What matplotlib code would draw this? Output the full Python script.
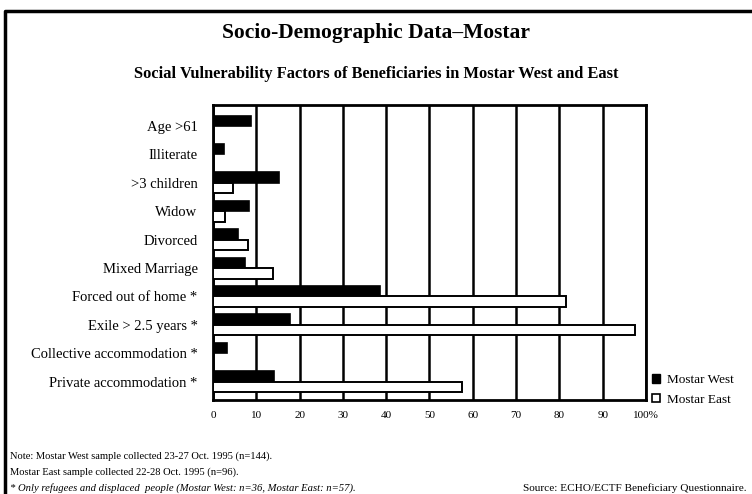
import numpy as np
import matplotlib
matplotlib.use("Agg")
import matplotlib.pyplot as plt
from matplotlib.patches import Patch
from matplotlib.lines import Line2D

plt.rcParams['font.family'] = 'Liberation Serif'

categories = ["Age >61", "Illiterate", ">3 children", "Widow", "Divorced",
              "Mixed Marriage", "Forced out of home *", "Exile > 2.5 years *",
              "Collective accommodation *", "Private accommodation *"]
west = [8.8, 2.6, 15.2, 8.4, 5.7, 7.3, 38.6, 17.9, 3.2, 14.0]
east = [0, 0, 4.7, 2.8, 8.2, 13.8, 81.5, 97.5, 0, 57.5]
xticks = [0, 10, 20, 30, 40, 50, 60, 70, 80, 90, 100]
xtick_labels = ["0", "10", "20", "30", "40", "50", "60", "70", "80", "90", "100%"]

fig = plt.figure(figsize=(7.52, 4.94), dpi=100)
ax = fig.add_axes([0.2832, 0.1903, 0.5758, 0.597])

y = np.arange(len(categories))
h = 0.37
ax.barh(y - h / 2, west, height=h, color="black", edgecolor="black", lw=1.2, zorder=3)
east_y = [yy + h / 2 for yy, v in zip(y, east) if v > 0]
east_v = [v for v in east if v > 0]
ax.barh(east_y, east_v, height=h, color="white", edgecolor="black", lw=1.4, zorder=3)

ax.set_xlim(0, 100)
ax.set_ylim(9.65, -0.74)
ax.set_xticks(xticks)
ax.set_xticklabels(xtick_labels, fontsize=8)
ax.set_yticks(y)
ax.set_yticklabels(categories, fontsize=10.5)
ax.tick_params(length=0)
ax.tick_params(axis='x', pad=8)
ax.tick_params(axis='y', pad=11)
ax.set_axisbelow(True)
ax.xaxis.grid(True, color="black", lw=1.8)
for s in ax.spines.values():
    s.set_linewidth(2)

handles = [Patch(facecolor="black", edgecolor="black", label="Mostar West"),
           Patch(facecolor="white", edgecolor="black", lw=1.2, label="Mostar East")]
ax.legend(handles=handles, loc="lower left", bbox_to_anchor=(1.013, -0.02),
          frameon=False, fontsize=9.5, handlelength=0.6, handleheight=0.6,
          handletextpad=0.6, labelspacing=0.6, borderpad=0, borderaxespad=0)

# titles
fig.text(0.5, 1 - 33 / 494, "Socio-Demographic Data\u2013Mostar", ha="center", va="center",
         fontsize=15.5, fontweight="bold")
fig.text(0.5, 1 - 74 / 494, "Social Vulnerability Factors of Beneficiaries in Mostar West and East",
         ha="center", va="center", fontsize=11.8, fontweight="bold")

# notes
fig.text(10 / 752, 1 - 456 / 494, "Note: Mostar West sample collected 23-27 Oct. 1995 (n=144).",
         ha="left", va="center", fontsize=7.6)
fig.text(10 / 752, 1 - 472 / 494, "Mostar East sample collected 22-28 Oct. 1995 (n=96).",
         ha="left", va="center", fontsize=7.6)
fig.text(10 / 752, 1 - 488 / 494,
         "* Only refugees and displaced  people (Mostar West: n=36, Mostar East: n=57).",
         ha="left", va="center", fontsize=7.7, style="italic")
fig.text(747 / 752, 1 - 488 / 494, "Source: ECHO/ECTF Beneficiary Questionnaire.",
         ha="right", va="center", fontsize=8.1)

# page frame
fig.add_artist(Line2D([5 / 752, 5 / 752, 1.0], [0.0, 1 - 11 / 494, 1 - 11 / 494],
                      transform=fig.transFigure, color="black", lw=2.5))

fig.savefig("out.png", dpi=100)
